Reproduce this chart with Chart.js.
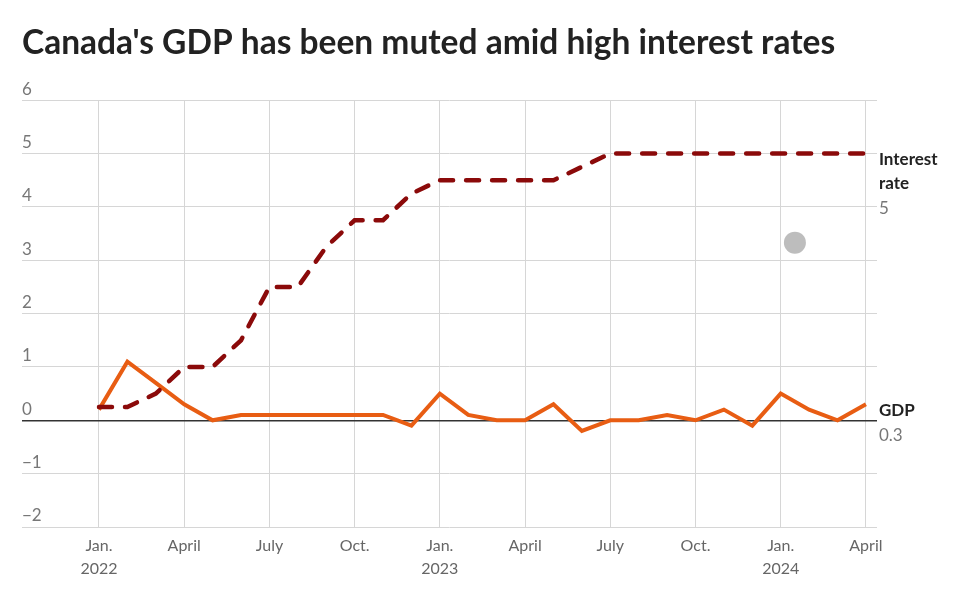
<!DOCTYPE html>
<html>
<head>
<meta charset="utf-8">
<script src="https://cdn.jsdelivr.net/npm/chart.js@4"></script>
<style>
  body { margin: 0; background: #fff; }
  canvas { display: block; }
</style>
</head>
<body>
<canvas id="chart" width="960" height="595"></canvas>
<script>
// months from Jan 2022 to April 2024
const months = [
  "2022-01", "2022-02", "2022-03", "2022-04", "2022-05", "2022-06",
  "2022-07", "2022-08", "2022-09", "2022-10", "2022-11", "2022-12",
  "2023-01", "2023-02", "2023-03", "2023-04", "2023-05", "2023-06",
  "2023-07", "2023-08", "2023-09", "2023-10", "2023-11", "2023-12",
  "2024-01", "2024-02", "2024-03", "2024-04",
];
const interestRate = [
  0.25, 0.25, 0.5, 1.0, 1.0, 1.5, 2.5, 2.5, 3.25, 3.75, 3.75, 4.25,
  4.5, 4.5, 4.5, 4.5, 4.5, 4.75, 5.0, 5.0, 5.0, 5.0, 5.0, 5.0,
  5.0, 5.0, 5.0, 5.0,
];
const gdp = [
  0.2, 1.1, 0.7, 0.3, 0.0, 0.1, 0.1, 0.1, 0.1, 0.1, 0.1, -0.1,
  0.5, 0.1, 0.0, 0.0, 0.3, -0.2, 0.0, 0.0, 0.1, 0.0, 0.2, -0.1,
  0.5, 0.2, 0.0, 0.3,
];
const xTickPositions = [0, 3, 6, 9, 12, 15, 18, 21, 24, 27];
const xTickLabels = [
  ["Jan.", "2022"], "April", "July", "Oct.",
  ["Jan.", "2023"], "April", "July", "Oct.",
  ["Jan.", "2024"], "April",
];
const greyDot = [{ x: 24.5, y: 3.33 }];

const FONT = "Lato, 'Open Sans', sans-serif";
const gridGrey = "#d6d6d6";

const endLabels = {
  id: "endLabels",
  afterDatasetsDraw(chart) {
    const ctx = chart.ctx;
    const items = [
      { idx: 0, name: ["Interest", "rate"], value: "5" },
      { idx: 1, name: ["GDP"], value: "0.3" },
    ];
    ctx.save();
    ctx.textAlign = "left";
    ctx.textBaseline = "middle";
    items.forEach((it) => {
      const meta = chart.getDatasetMeta(it.idx);
      const pt = meta.data[meta.data.length - 1];
      const x = pt.x + 13;
      let y = pt.y + 6;
      ctx.font = "bold 17px " + FONT;
      ctx.fillStyle = "#222";
      it.name.forEach((line) => {
        ctx.fillText(line, x, y);
        y += 24;
      });
      ctx.font = "17px " + FONT;
      ctx.fillStyle = "#777";
      ctx.fillText(it.value, x, y + 1);
    });
    ctx.restore();
  },
};

new Chart(document.getElementById("chart"), {
  type: "line",
  data: {
    datasets: [
      {
        label: "Interest rate",
        data: interestRate.map((v, i) => ({ x: i, y: v })),
        borderColor: "#8b0a0a",
        borderWidth: 4.5,
        borderDash: [13, 13],
        borderCapStyle: "round",
        pointRadius: 0,
        tension: 0,
      },
      {
        label: "GDP",
        data: gdp.map((v, i) => ({ x: i, y: v })),
        borderColor: "#e85d13",
        borderWidth: 4,
        pointRadius: 0,
        tension: 0,
      },
      {
        type: "scatter",
        label: "marker",
        data: greyDot,
        backgroundColor: "#bdbdbd",
        borderWidth: 0,
        pointRadius: 11,
      },
    ],
  },
  options: {
    responsive: false,
    animation: false,
    layout: { padding: { left: 22, right: 83, top: 0, bottom: 0 } },
    plugins: {
      legend: { display: false },
      tooltip: { enabled: false },
      title: {
        display: true,
        text: "Canada's GDP has been muted amid high interest rates",
        align: "start",
        color: "#222",
        font: { family: FONT, size: 33.5, weight: "bold" },
        padding: { top: 23, bottom: 37 },
      },
    },
    scales: {
      x: {
        type: "linear",
        min: -2.71,
        max: 27.39,
        afterBuildTicks: (scale) => {
          scale.ticks = xTickPositions.map((v) => ({ value: v }));
        },
        afterFit: (scale) => {
          scale.height = 68;
        },
        border: { display: false },
        grid: { color: gridGrey, drawTicks: false },
        ticks: {
          padding: 8,
          color: "#666",
          font: { family: FONT, size: 16, lineHeight: 1.4 },
          maxRotation: 0,
          autoSkip: false,
          callback: (v) => {
            const i = xTickPositions.indexOf(v);
            return i >= 0 ? xTickLabels[i] : "";
          },
        },
      },
      y: {
        min: -2,
        max: 6,
        border: { display: false },
        grid: {
          drawTicks: false,
          color: (c) => (c.tick && c.tick.value === 0 ? "#333" : gridGrey),
          lineWidth: (c) => (c.tick && c.tick.value === 0 ? 1.5 : 1),
        },
        ticks: {
          stepSize: 1,
          mirror: true,
          padding: 0,
          labelOffset: -11,
          color: "#777",
          font: { family: FONT, size: 17 },
          callback: (v) => (v < 0 ? "\u2212" + Math.abs(v) : String(v)),
        },
      },
    },
  },
  plugins: [endLabels],
});
</script>
</body>
</html>
